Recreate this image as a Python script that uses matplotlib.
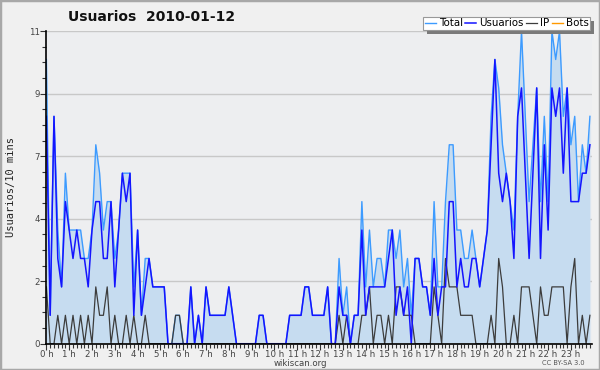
import matplotlib
matplotlib.use("Agg")
import matplotlib.pyplot as plt
from matplotlib.patches import Rectangle
from matplotlib.ticker import FixedLocator, MultipleLocator

# una muestra cada 10 minutos, 144 puntos
total = [10, 1, 8, 4, 2, 6, 4, 4, 4, 4, 3, 3,
         4, 7, 6, 4, 5, 5, 3, 4, 6, 6, 6, 2,
         4, 1, 3, 3, 2, 2, 2, 2, 0, 0, 1, 1,
         0, 0, 2, 0, 1, 0, 2, 1, 1, 1, 1, 1,
         2, 1, 0, 0, 0, 0, 0, 0, 1, 1, 0, 0,
         0, 0, 0, 0, 1, 1, 1, 1, 2, 2, 1, 1,
         1, 1, 2, 0, 0, 3, 1, 2, 0, 1, 1, 5,
         2, 4, 2, 3, 3, 2, 4, 4, 3, 4, 2, 3,
         1, 3, 3, 2, 2, 1, 5, 2, 2, 5, 7, 7,
         4, 4, 3, 3, 4, 3, 2, 3, 4, 8, 10, 9,
         7, 6, 5, 4, 8, 11, 8, 5, 7, 9, 5, 8,
         5, 11, 10, 11, 8, 9, 7, 8, 5, 7, 6, 8]

usuarios = [8, 1, 8, 3, 2, 5, 4, 3, 4, 3, 3, 2,
            4, 5, 5, 3, 3, 5, 2, 4, 6, 5, 6, 1,
            4, 1, 2, 3, 2, 2, 2, 2, 0, 0, 0, 0,
            0, 0, 2, 0, 1, 0, 2, 1, 1, 1, 1, 1,
            2, 1, 0, 0, 0, 0, 0, 0, 1, 1, 0, 0,
            0, 0, 0, 0, 1, 1, 1, 1, 2, 2, 1, 1,
            1, 1, 2, 0, 0, 2, 1, 1, 0, 1, 1, 4,
            1, 2, 2, 2, 2, 2, 3, 4, 1, 2, 1, 2,
            0, 3, 3, 2, 2, 1, 3, 1, 2, 2, 5, 5,
            2, 3, 2, 2, 3, 3, 2, 3, 4, 7, 10, 6,
            5, 6, 5, 3, 8, 9, 6, 3, 6, 9, 3, 7,
            4, 9, 8, 9, 6, 9, 5, 5, 5, 6, 6, 7]

ip = [2, 0, 0, 1, 0, 1, 0, 1, 0, 1, 0, 1,
      0, 2, 1, 1, 2, 0, 1, 0, 0, 1, 0, 1,
      0, 0, 1, 0, 0, 0, 0, 0, 0, 0, 1, 1,
      0, 0, 0, 0, 0, 0, 0, 0, 0, 0, 0, 0,
      0, 0, 0, 0, 0, 0, 0, 0, 0, 0, 0, 0,
      0, 0, 0, 0, 0, 0, 0, 0, 0, 0, 0, 0,
      0, 0, 0, 0, 0, 1, 0, 1, 0, 0, 0, 1,
      1, 2, 0, 1, 1, 0, 1, 0, 2, 2, 1, 1,
      1, 0, 0, 0, 0, 0, 2, 1, 0, 3, 2, 2,
      2, 1, 1, 1, 1, 0, 0, 0, 0, 1, 0, 3,
      2, 0, 0, 1, 0, 2, 2, 2, 1, 0, 2, 1,
      1, 2, 2, 2, 2, 0, 2, 3, 0, 1, 0, 1]

bots = [0, 0, 0, 0, 0, 0, 0, 0, 0, 0, 0, 0,
        0, 0, 0, 0, 0, 0, 0, 0, 0, 0, 0, 0,
        0, 0, 0, 0, 0, 0, 0, 0, 0, 0, 0, 0,
        0, 0, 0, 0, 0, 0, 0, 0, 0, 0, 0, 0,
        0, 0, 0, 0, 0, 0, 0, 0, 0, 0, 0, 0,
        0, 0, 0, 0, 0, 0, 0, 0, 0, 0, 0, 0,
        0, 0, 0, 0, 0, 0, 0, 0, 0, 0, 0, 0,
        0, 0, 0, 0, 0, 0, 0, 0, 0, 0, 0, 0,
        0, 0, 0, 0, 0, 0, 0, 0, 0, 0, 0, 0,
        0, 0, 0, 0, 0, 0, 0, 0, 0, 0, 0, 0,
        0, 0, 0, 0, 0, 0, 0, 0, 0, 0, 0, 0,
        0, 0, 0, 0, 0, 0, 0, 0, 0, 0, 0, 0]

horas = ["%d h" % h for h in range(24)]
y_ticks = [0, 2.2, 4.4, 6.6, 8.8, 11]
y_labels = ["0", "2", "4", "7", "9", "11"]

x = list(range(len(total)))

fig = plt.figure(figsize=(6, 3.7), dpi=100, facecolor="#f0f0f0")
fig.patches.append(Rectangle((0, 0), 1, 1, transform=fig.transFigure,
                             fill=False, edgecolor="#a8a8a8", lw=2.5))
ax = fig.add_axes([0.077, 0.071, 0.91, 0.845])
ax.set_facecolor("#edeef0")

ax.fill_between(x, total, 0, color="#c6dcf0", lw=0, zorder=1)
ax.plot(x, bots, color="#ff9900", lw=1, zorder=1.5, label="Bots")
ax.plot(x, total, color="#3d9bff", lw=1, zorder=2, label="Total")
ax.plot(x, usuarios, color="#1414ff", lw=1.1, zorder=2.2, label="Usuarios")
ax.plot(x, ip, color="#3c3c3c", lw=0.9, zorder=2.1, label="IP")

ax.set_xlim(-0.05, 143.6)
ax.set_ylim(0, 11)

ax.yaxis.set_major_locator(FixedLocator(y_ticks))
ax.set_yticklabels(y_labels)
ax.yaxis.set_minor_locator(MultipleLocator(0.55))
ax.xaxis.set_major_locator(FixedLocator(range(0, 144, 6)))
ax.set_xticklabels(horas)
ax.xaxis.set_minor_locator(MultipleLocator(1))

ax.tick_params(axis="both", which="major", labelsize=6.2, colors="#333333",
               length=4, width=0.8, pad=0.5)
ax.tick_params(axis="both", which="minor", length=3, width=0.8, color="#333333")
for lab in ax.get_xticklabels() + ax.get_yticklabels():
    lab.set_color("#444444")

ax.grid(axis="y", which="major", color="#c8c8c8", lw=1, zorder=0)
ax.set_axisbelow(True)
for s in ["top", "right"]:
    ax.spines[s].set_visible(False)
for s in ["left", "bottom"]:
    ax.spines[s].set_color("black")
    ax.spines[s].set_linewidth(1.2)
    ax.spines[s].set_zorder(5)

ax.set_ylabel("Usuarios/10 mins", family="DejaVu Sans Mono", fontsize=7.5,
              color="#222222", labelpad=9)
fig.text(0.252, 0.955, "Usuarios  2010-01-12", fontsize=10, fontweight="bold",
         ha="center", va="center", color="#111111")
fig.text(0.5, 0.018, "wikiscan.org", fontsize=6.2, ha="center", va="center",
         color="#444444")
fig.text(0.975, 0.018, "CC BY-SA 3.0", fontsize=4.8, ha="right", va="center",
         color="#555555")

handles, labels = ax.get_legend_handles_labels()
order = [1, 2, 3, 0]
leg = fig.legend([handles[i] for i in order], [labels[i] for i in order],
                 loc="upper right", bbox_to_anchor=(0.984, 0.955), ncol=4,
                 fontsize=7.4, frameon=True, fancybox=False, handlelength=1.1,
                 handletextpad=0.3, columnspacing=0.2, borderpad=0.15,
                 borderaxespad=0)
leg.get_frame().set_edgecolor("#999999")
leg.get_frame().set_linewidth(0.8)
leg.get_frame().set_facecolor("white")
leg.get_frame().set_alpha(1)
leg.set_zorder(10)

# sombra del recuadro de la leyenda
fig.canvas.draw()
bb = leg.get_window_extent().transformed(fig.transFigure.inverted())
dx, dy = 4 / 600, 4 / 370
fig.patches.append(Rectangle((bb.x0 + dx, bb.y0 - dy), bb.width, bb.height,
                             transform=fig.transFigure, facecolor="#7a7a7a",
                             edgecolor="none", zorder=9))

fig.savefig("out.png", dpi=100, facecolor=fig.get_facecolor())
